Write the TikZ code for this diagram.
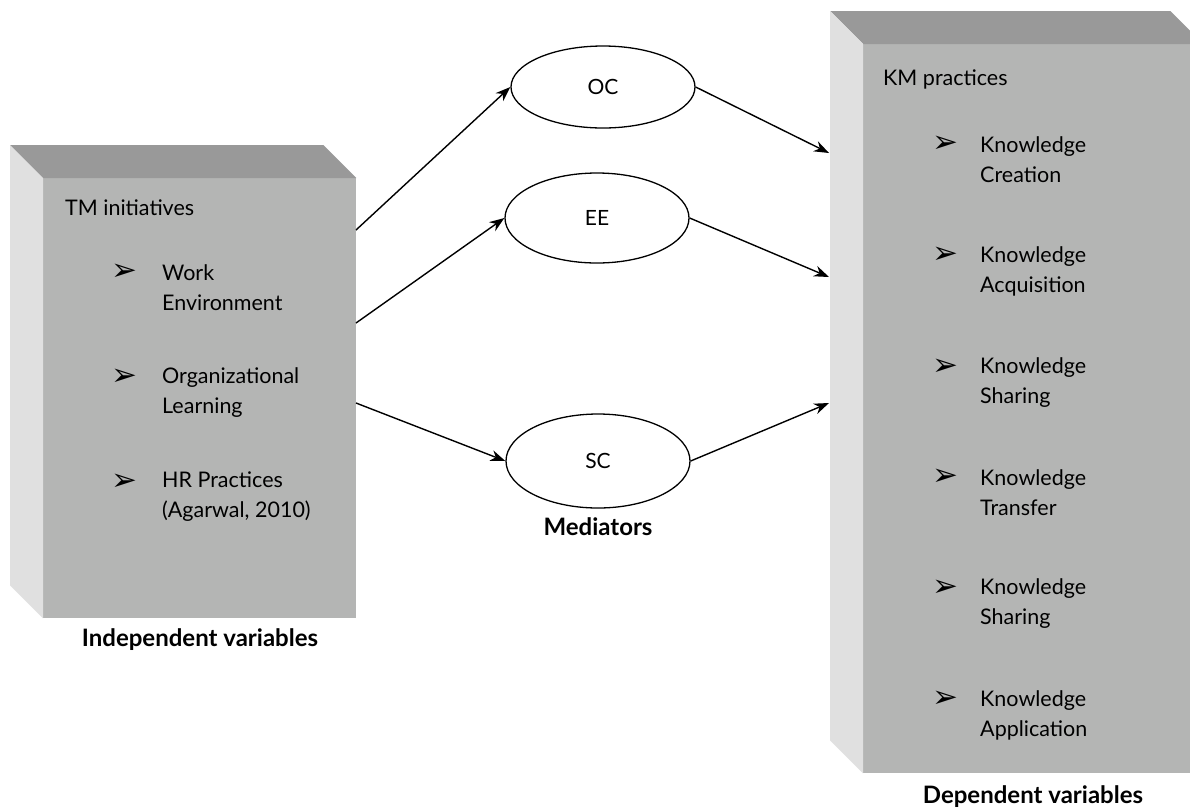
\documentclass[tikz,border=0pt]{standalone}
\usepackage{fontspec}
\setmainfont{Lato}
\newfontfamily\symfont{DejaVu Sans}
\usetikzlibrary{calc}
\usetikzlibrary{arrows.meta}
\usetikzlibrary{shapes.geometric}
\newcommand{\tx}[1]{\textrm{#1}}
\newcommand{\blt}{{\symfont\char"27A2}}
\definecolor{frontgray}{HTML}{B4B5B4}
\definecolor{topgray}{HTML}{999999}
\definecolor{sidegray}{HTML}{E0E0E0}
\tikzset{
	face/.style={fill=frontgray, draw=none, inner sep=0pt, anchor=north west},
	med/.style={ellipse, draw, line width=1.3pt, fill=white, minimum width=184pt, font=\fontsize{21}{30}\selectfont},
	arr/.style={-{Stealth[length=15pt,width=11pt]}, line width=1.4pt},
	itm/.style={anchor=west, align=left, inner sep=0pt, font=\fontsize{21.5}{30}\selectfont},
	bul/.style={inner sep=0pt, font=\fontsize{31}{34}\selectfont},
	lbl/.style={font=\fontsize{24}{28}\selectfont\bfseries},
}

\begin{document}
\begin{tikzpicture}[x=1pt,y=-1pt]
\clip (0,0) rectangle (1190,807);
% left box
\node[face, minimum width=313pt, minimum height=440pt] at (43,178) (tm) {};
\fill[topgray] (tm.north west) -- ++(-33,-33) -- ($(tm.north east)+(-33,-33)$) -- (tm.north east) -- cycle;
\fill[sidegray] (tm.north west) -- ++(-33,-33) -- ($(tm.south west)+(-33,-33)$) -- (tm.south west) -- cycle;
\node[itm] at (65,208) (tmh) {\tx{TM initiatives}};
\node[bul] at (124,272) (tmb1) {\blt};
\node[bul] at (124,377) (tmb2) {\blt};
\node[bul] at (124,482) (tmb3) {\blt};
\node[itm] at (162,288) (tm1) {Work\\Environment};
\node[itm] at (162,393) (tm2) {Organizational\\Learning};
\node[itm] at (162,497) (tm3) {HR Practices\\(Agarwal, 2010)};
\node[lbl] at (200,640) (indep) {Independent variables};
% right box
\node[face, minimum width=340pt, minimum height=729pt] at (863,44) (km) {};
\fill[topgray] (km.north west) -- ++(-33,-33) -- ($(km.north east)+(-33,-33)$) -- (km.north east) -- cycle;
\fill[sidegray] (km.north west) -- ++(-33,-33) -- ($(km.south west)+(-33,-33)$) -- (km.south west) -- cycle;
\node[itm] at (883,79) (kmh) {\tx{KM practices}};
\node[bul] at (945,144) (kmb1) {\blt};
\node[bul] at (945,255) (kmb2) {\blt};
\node[bul] at (945,367) (kmb3) {\blt};
\node[bul] at (945,477) (kmb4) {\blt};
\node[bul] at (945,588) (kmb5) {\blt};
\node[bul] at (945,699) (kmb6) {\blt};
\node[itm] at (980,160) (km1) {Knowledge\\Creation};
\node[itm] at (980,271) (km2) {Knowledge\\Acquisition};
\node[itm] at (980,383) (km3) {Knowledge\\Sharing};
\node[itm] at (980,493) (km4) {Knowledge\\Transfer};
\node[itm] at (980,604) (km5) {Knowledge\\Sharing};
\node[itm] at (980,715) (km6) {Knowledge\\Application};
\node[lbl] at (1033,797) (dep) {Dependent variables};
% mediators
\node[med, minimum height=82pt] at (603,87) (oc) {OC};
\node[med, minimum height=90pt] at (597,218) (ee) {EE};
\node[med, minimum height=94pt] at (598,461) (sc) {SC};
\node[lbl] at (598,527) (medl) {Mediators};
\coordinate (tmA) at (356,230);
\coordinate (tmB) at (356,323);
\coordinate (tmC) at (356,403);
\coordinate (kmA) at (829,153);
\coordinate (kmB) at (829,277);
\coordinate (kmC) at (829,403);
\draw[arr] (tmA) -- (oc.west);
\draw[arr] (tmB) -- (ee.west);
\draw[arr] (tmC) -- (sc.west);
\draw[arr] (oc.east) -- (kmA);
\draw[arr] (ee.east) -- (kmB);
\draw[arr] (sc.east) -- (kmC);
\end{tikzpicture}
\end{document}
